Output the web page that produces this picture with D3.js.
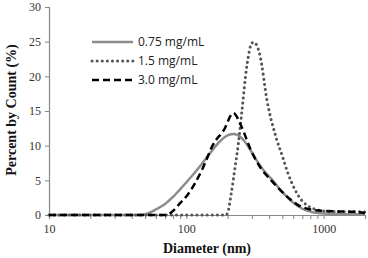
<!DOCTYPE html>
<html>
<head>
<meta charset="utf-8">
<script src="https://cdn.jsdelivr.net/npm/d3@7"></script>
<style>
  body { margin: 0; background: #fff; }
  svg { display: block; }
  .serif { font-family: "Liberation Serif", "Times New Roman", "DejaVu Serif", serif; }
</style>
</head>
<body>
<div id="chart"></div>
<script>
// Diameter (nm) / percent by count
const conc075 = [
  [10, 0], [47, 0], [52, 0.2], [60, 0.8], [70, 1.6], [80, 2.6], [90, 3.7],
  [102, 4.9], [115, 6.1], [130, 7.4], [150, 9.0], [175, 10.6], [200, 11.5],
  [222, 11.7], [250, 11.2], [280, 10.0], [320, 8.1], [370, 6.3], [430, 4.9],
  [500, 3.3], [600, 1.8], [700, 0.9], [830, 0.4], [1000, 0.2], [1500, 0.1], [2000, 0.1]
];
const conc15 = [
  [10, 0], [194, 0], [200, 0.3], [212, 3], [225, 6.5], [240, 10.5], [254, 15],
  [276, 21.5], [300, 24.8], [310, 24.9], [344, 23], [387, 16.5], [450, 11.2],
  [500, 8.5], [550, 6.0], [620, 3.6], [700, 2.0], [800, 1.1], [919, 0.7],
  [1100, 0.5], [2000, 0.45]
];
const conc30 = [
  [10, 0], [72, 0], [80, 0.6], [90, 1.7], [102, 2.9], [115, 4.5], [130, 6.5],
  [158, 10.3], [187, 12.2], [220, 14.7], [250, 12.9], [296, 9.3], [350, 6.7],
  [415, 5.0], [467, 3.9], [560, 2.4], [655, 1.4], [800, 0.8], [967, 0.6],
  [1356, 0.5], [1700, 0.45], [2000, 0.3]
];
const seriesNames = ['0.75 mg/mL', '1.5 mg/mL', '3.0 mg/mL'];
const yTicks = [0, 5, 10, 15, 20, 25, 30];
const xLabels = [10, 100, 1000];

const W = 368, H = 258;
const margin = { top: 7, right: 3, bottom: 43, left: 49 };
const width = W - margin.left - margin.right;
const height = H - margin.top - margin.bottom;

const svg = d3.select('#chart').append('svg')
  .attr('width', W).attr('height', H);
const g = svg.append('g')
  .attr('transform', `translate(${margin.left},${margin.top})`);

const x = d3.scaleLog().domain([10, 2000]).range([0, width]);
const y = d3.scaleLinear().domain([0, 30]).range([height, 0]);

const styles = [
  { color: '#8c8c8c', w: 2.5, dash: null, cap: 'butt' },
  { color: '#555', w: 3, dash: '0.1 5', cap: 'round' },
  { color: '#000', w: 2.5, dash: '7 4', cap: 'butt' }
];

// Axes
const minorTicks = [];
[10, 100, 1000].forEach(b => { for (let k = 1; k < 10; k++) if (b * k <= 2000) minorTicks.push(b * k); });

const xAxis = g.append('g').attr('transform', `translate(0,${height})`)
  .call(d3.axisBottom(x).tickValues(minorTicks).tickSize(4)
    .tickFormat(d => xLabels.includes(d) ? d : ''));
xAxis.attr('font-family', null);
xAxis.select('.domain').attr('stroke', '#888').attr('stroke-width', 1.2);
xAxis.selectAll('line').attr('stroke', '#888');
xAxis.selectAll('text').attr('class', 'serif').attr('fill', '#333')
  .attr('font-size', 12).attr('dy', '0.95em');

const yAxis = g.append('g')
  .call(d3.axisLeft(y).tickValues(yTicks).tickSize(4).tickPadding(4));
yAxis.attr('font-family', null);
yAxis.select('.domain').attr('stroke', '#888').attr('stroke-width', 1.2);
yAxis.selectAll('line').attr('stroke', '#888');
yAxis.selectAll('text').attr('class', 'serif').attr('fill', '#333')
  .attr('font-size', 12);

// Lines
const line = d3.line()
  .x(d => x(d[0])).y(d => y(d[1]))
  .curve(d3.curveMonotoneX);

[conc075, conc15, conc30].forEach((data, i) => {
  const s = styles[i];
  g.append('path').datum(data)
    .attr('fill', 'none')
    .attr('stroke', s.color)
    .attr('stroke-width', s.w)
    .attr('stroke-linecap', s.cap)
    .attr('stroke-dasharray', s.dash)
    .attr('d', line);
});

// Legend
const legend = svg.append('g').attr('transform', 'translate(92,42)');
seriesNames.forEach((name, i) => {
  const s = styles[i];
  const row = legend.append('g').attr('transform', `translate(0,${i * 19})`);
  row.append('line')
    .attr('x1', 0).attr('x2', 41)
    .attr('stroke', s.color).attr('stroke-width', s.w)
    .attr('stroke-linecap', s.cap)
    .attr('stroke-dasharray', s.dash);
  row.append('text')
    .attr('x', 46).attr('dy', '0.35em')
    .attr('font-family', '"Open Sans", sans-serif').attr('font-size', 12)
    .attr('fill', '#222')
    .text(name);
});

// Axis titles
svg.append('text').attr('class', 'serif')
  .attr('x', 207).attr('y', 253)
  .attr('text-anchor', 'middle')
  .attr('font-weight', 'bold')
  .attr('font-size', 14).attr('fill', '#111')
  .text('Diameter (nm)');

svg.append('text').attr('class', 'serif')
  .attr('transform', 'translate(16,110) rotate(-90)')
  .attr('text-anchor', 'middle')
  .attr('font-weight', 'bold')
  .attr('font-size', 14).attr('fill', '#111')
  .text('Percent by Count (%)');
</script>
</body>
</html>
